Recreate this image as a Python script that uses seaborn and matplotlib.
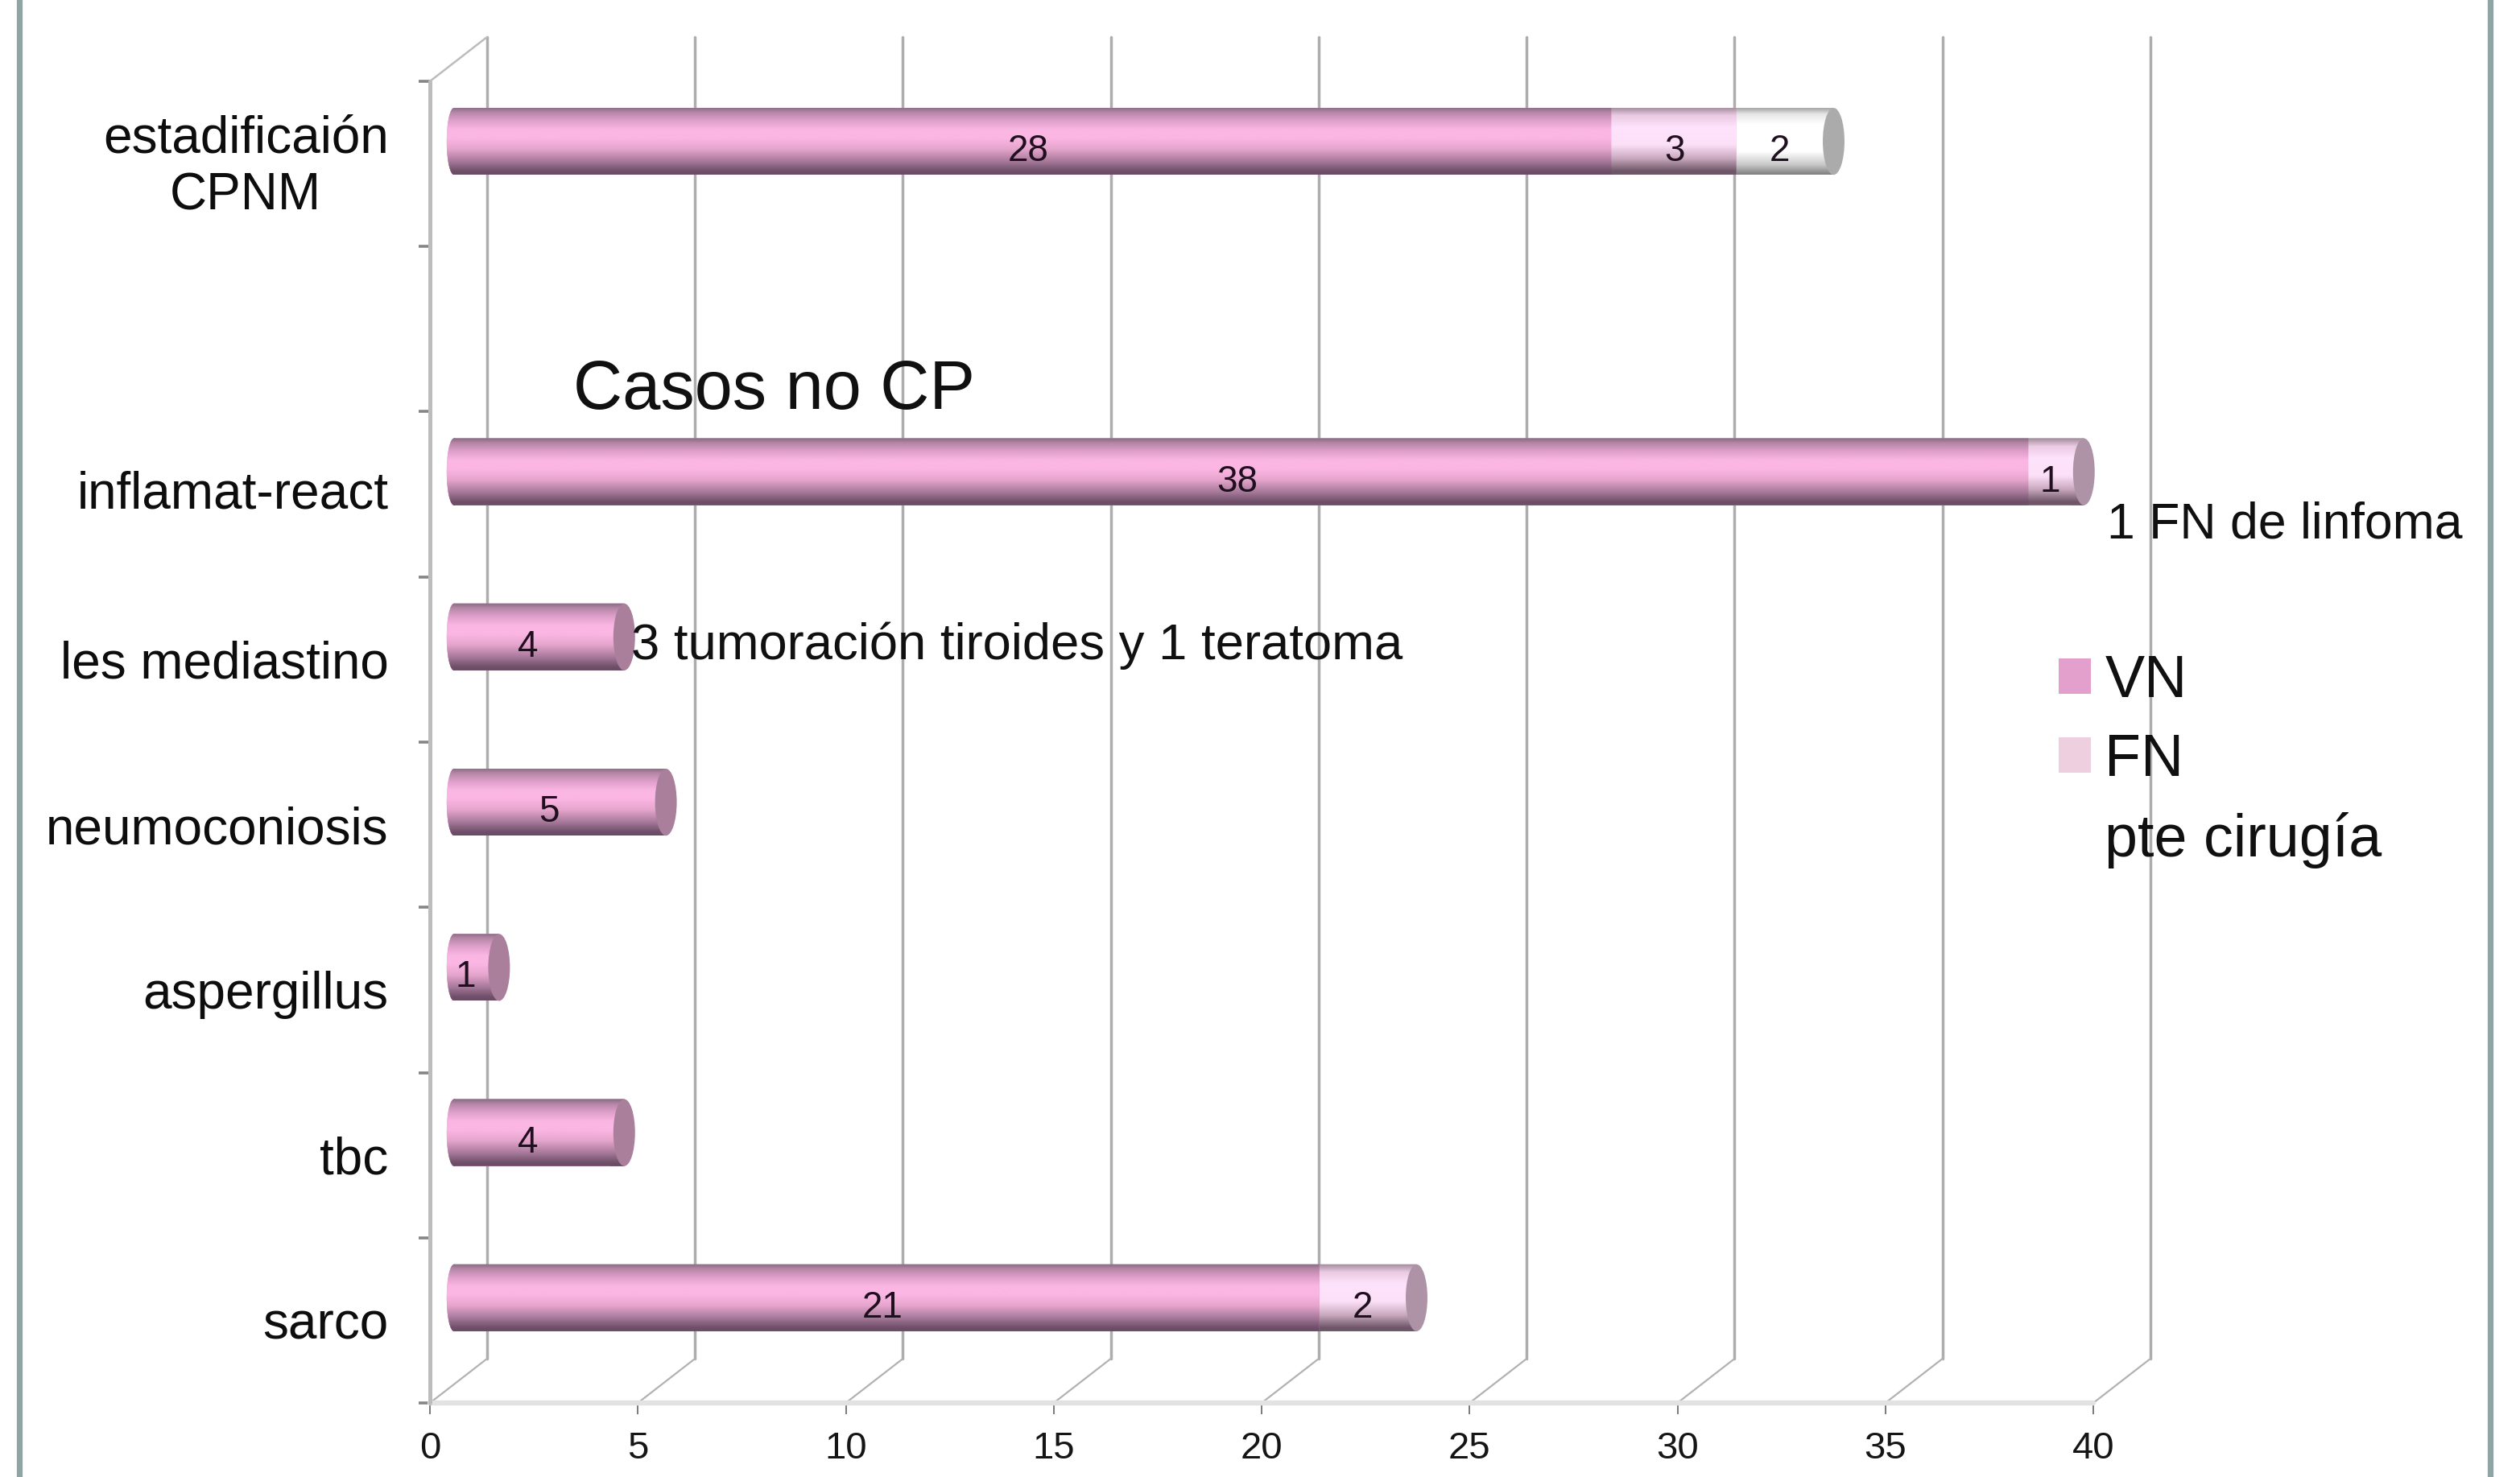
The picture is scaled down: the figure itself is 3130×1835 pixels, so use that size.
import numpy as np
import matplotlib
matplotlib.use("Agg")
import matplotlib.pyplot as plt
from matplotlib.colors import LinearSegmentedColormap
from matplotlib.lines import Line2D
from matplotlib.patches import Ellipse, Patch
from matplotlib.path import Path
from matplotlib.transforms import Affine2D
import pandas as pd
import seaborn as sns

categories = ["estadificaión\nCPNM", " ", "inflamat-react", "les mediastino",
              "neumoconiosis", "aspergillus", "tbc", "sarco"]
vn = [28, 0, 38, 4, 5, 1, 4, 21]
fn = [3, 0, 1, 0, 0, 0, 0, 2]
pte = [2, 0, 0, 0, 0, 0, 0, 0]
x_ticks = [0, 5, 10, 15, 20, 25, 30, 35, 40]

W, H, DPI = 3130, 1835, 100
FONT = "Liberation Sans"

# pixel layout of the pseudo-3D frame
PLOT_L, PLOT_R, PLOT_T, PLOT_B = 534, 2600, 101, 1743
BAR_L, BAR_R, BAR_T, BAR_B = 551, 2623, 73, 1715   # bars sit a little behind the front plane
DEPTH_X, DEPTH_Y = 71 / 51.7, 55 / 205.25          # back wall offset in data units
CAP_OFFSET, CAP_WIDTH = 0.33, 0.52
LEFT_CAP_X, LEFT_CAP_W = 0.25, 0.35
BAR_H = 0.405

sns.set_theme(style="white")
plt.rcParams["font.family"] = [FONT, "DejaVu Sans"]

df = pd.DataFrame({"cat": categories, "vn": vn, "fn": fn, "pte": pte})
df["vn_fn"] = df.vn + df.fn
df["total"] = df.vn_fn + df.pte

fig = plt.figure(figsize=(W / DPI, H / DPI), dpi=DPI, facecolor="white")


def rect(l, t, r, b):
    return [l / W, 1 - b / H, (r - l) / W, (b - t) / H]


ax = fig.add_axes(rect(PLOT_L, PLOT_T, PLOT_R, PLOT_B))
ax_bars = fig.add_axes(rect(BAR_L, BAR_T, BAR_R, BAR_B))
ax_bars.patch.set_alpha(0)

n = len(categories)
for a in (ax, ax_bars):
    a.set_xlim(x_ticks[0], x_ticks[-1])

# front plane: axis lines, ticks and labels
for s in ("top", "right", "left", "bottom"):
    ax.spines[s].set_visible(False)
ax.set_ylim(n - 0.5, -0.5)
ax.set_xticks(x_ticks)
ax.tick_params(axis="x", length=10, width=1.4, color="#7a7a7a", pad=15,
               labelsize=34, labelcolor="#151515", bottom=True)
ax.set_yticks(np.arange(n + 1) - 0.5)
ax.set_yticklabels([])
ax.tick_params(axis="y", which="major", length=10, width=2.6, color="#868686", left=True)
ax.set_yticks(np.arange(n), minor=True)
ax.set_yticklabels(categories, minor=True, fontsize=46, color="#0d0d0d", ma="center",
                   linespacing=1.25)
ax.tick_params(axis="y", which="minor", length=0, pad=37)
# the two upper labels sit slightly higher than the row centre
for idx, dy_px in ((0, 8), (2, 6)):
    lab = ax.get_yticklabels(minor=True)[idx]
    lab.set_transform(lab.get_transform() + Affine2D().translate(0, dy_px))

wall_col = "#adadad"
y_end = n - 0.5
y_top = -0.5
for t in x_ticks:
    ax.plot([t + DEPTH_X] * 2, [y_end - DEPTH_Y, y_top - DEPTH_Y], color=wall_col,
            lw=2.5, clip_on=False, zorder=1)
    ax.plot([t, t + DEPTH_X], [y_end, y_end - DEPTH_Y], color="#b2b2b2",
            lw=1.6, clip_on=False, zorder=1)
ax.plot([0, DEPTH_X], [y_top, y_top - DEPTH_Y], color="#bcbcbc", lw=1.8,
        clip_on=False, zorder=1)
ax.plot([0, 0], [y_top, y_end], color="#bdbdbd", lw=3.6, clip_on=False, zorder=2)
ax.plot([0, x_ticks[-1]], [y_end, y_end], color="#e2e2e2", lw=4.6, clip_on=False, zorder=1)

# stacked bars: cumulative layers drawn from longest to shortest
layers = [
    ("total", "#e9e9e9",
     [(0, "#9c9c9c"), (.1, "#e6e6e6"), (.25, "#ffffff"), (.66, "#ffffff"),
      (.86, "#c6c6c6"), (1, "#7e7e7e")]),
    ("vn_fn", "#f0d0e6",
     [(0, "#a08a9a"), (.12, "#ebcae3"), (.3, "#fee3fc"), (.56, "#fce0f8"),
      (.76, "#c9a9bf"), (.95, "#6e5668"), (1, "#6e5668")]),
    ("vn", "#e3a0cd",
     [(0, "#8a6a85"), (.08, "#b888a8"), (.2, "#e0a0cc"), (.33, "#fbb6e3"),
      (.46, "#fbb6e3"), (.62, "#e6a5cd"), (.8, "#a87a9c"), (.95, "#6e4f68"),
      (1, "#6a4a65")]),
]
CAP_COLORS = {"total": "#ababab", "vn_fn": "#ae93a6", "vn": "#a97f9c"}
gradient = np.linspace(0, 1, 128).reshape(-1, 1)

for col, flat, stops in layers:
    before = len(ax_bars.containers)
    sns.barplot(data=df, y="cat", x=col, order=categories, color=flat, saturation=1,
                orient="y", width=BAR_H, ax=ax_bars, linewidth=0, zorder=3)
    cmap = LinearSegmentedColormap.from_list(col, stops)
    for row, bar in enumerate(ax_bars.containers[before]):
        value = bar.get_width()
        if value <= 0:
            bar.set_visible(False)
            continue
        y0, h = bar.get_y(), bar.get_height()
        end = value + (CAP_OFFSET if value == df.total[row] else 0)
        body = Path([(LEFT_CAP_X, y0), (end, y0), (end, y0 + h), (LEFT_CAP_X, y0 + h),
                     (LEFT_CAP_X, y0)], closed=True)
        left = Path.unit_circle().transformed(
            Affine2D().scale(LEFT_CAP_W / 2, h / 2).translate(LEFT_CAP_X, y0 + h / 2))
        outline = Path.make_compound_path(body, left)
        bar.set_clip_path(outline, ax_bars.transData)
        img = ax_bars.imshow(gradient, cmap=cmap, vmin=0, vmax=1, aspect="auto",
                             extent=(0, end, y0 + h, y0), interpolation="bilinear",
                             zorder=3)
        img.set_clip_path(outline, ax_bars.transData)

# end caps take the colour of the outermost visible segment
for row in range(n):
    if df.total[row] <= 0:
        continue
    owner = "total" if df.pte[row] else ("vn_fn" if df.fn[row] else "vn")
    ax_bars.add_patch(Ellipse((df.total[row] + CAP_OFFSET, row), CAP_WIDTH, BAR_H,
                              fc=CAP_COLORS[owner], ec="none", zorder=4))

# value labels centred on each segment
for row in range(n):
    start = 0
    for seg in (vn[row], fn[row], pte[row]):
        if seg:
            ax_bars.annotate(str(seg), (start + seg / 2, row), xytext=(1, -9),
                             textcoords="offset points", ha="center", va="center",
                             fontsize=33, color="#1f0f1f", zorder=6)
        start += seg

ax_bars.set_ylim(n - 0.5, -0.5)
ax_bars.set_xlim(x_ticks[0], x_ticks[-1])
ax_bars.axis("off")
ax.set_xlabel("")
ax.set_ylabel("")


def label(x, y, text, size):
    fig.text(x / W, 1 - y / H, text, fontsize=size, color="#101010", ha="left", va="center")


label(712, 486, "Casos no CP", 61)
label(2617, 652, "1 FN de linfoma", 45)
label(784, 802, "3 tumoración tiroides y 1 teratoma", 45.6)

handles = [Patch(fc="#e3a0cd", ec="none", label="VN"),
           Patch(fc="#edcfe0", ec="none", label="FN"),
           Patch(fc="white", ec="none", label="pte cirugía")]
fig.legend(handles=handles, loc="upper left", bbox_to_anchor=(2557 / W, 1 - 812 / H),
           bbox_transform=fig.transFigure, frameon=False, fontsize=53, handlelength=0.54,
           handleheight=0.54, handletextpad=0.24, labelspacing=0.40, borderpad=0,
           borderaxespad=0, labelcolor="#101010")

# slide frame on both sides
for xpos in (24, 3093):
    fig.add_artist(Line2D([xpos / W, xpos / W], [0, 1], color="#8fa5a5", lw=5.2))

fig.savefig("out.png", dpi=DPI, facecolor="white")
